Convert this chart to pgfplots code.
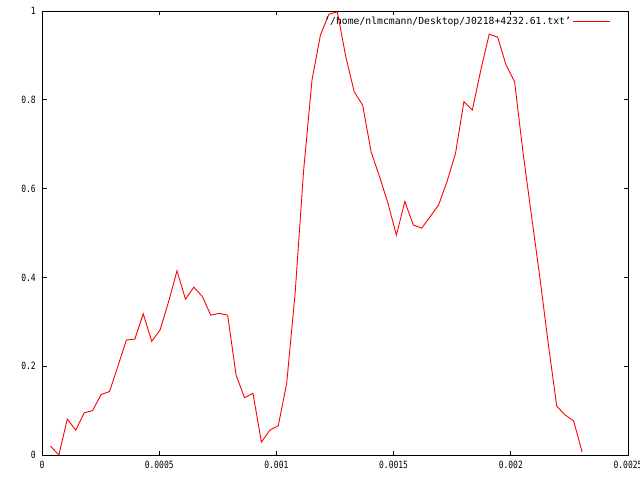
\documentclass[border=0pt]{standalone}
\usepackage{fontspec}
\setmainfont{DejaVu Sans Mono}
\newfontfamily\tickfont[FakeStretch=0.8]{DejaVu Sans Mono}
\usepackage{pgfplots}
\pgfplotsset{compat=1.18}
\begin{document}
\begin{tikzpicture}
\path[use as bounding box] (0,0) rectangle (640pt,480pt);
\begin{axis}[
  at={(42pt,25pt)}, anchor=south west,
  scale only axis, width=586pt, height=444pt,
  xmin=0, xmax=0.0025, ymin=0, ymax=1,
  xtick={0,0.0005,0.001,0.0015,0.002,0.0025},
  ytick={0,0.2,0.4,0.6,0.8,1},
  scaled ticks=false,
  /pgf/number format/assume math mode=true,
  xticklabel style={/pgf/number format/fixed,/pgf/number format/precision=4, font=\fontsize{10}{11}\tickfont, inner sep=0pt, yshift=-6pt},
  yticklabel style={/pgf/number format/fixed,/pgf/number format/precision=1, font=\fontsize{10}{11}\tickfont, inner sep=0pt, xshift=-6pt},
  tick align=inside, major tick length=4.5pt,
  tick style={black, line width=0.8pt},
  axis line style={black, line width=0.8pt},
  legend plot pos=right,
  legend style={draw=none, fill=none, at={(0.971,0.977)}, anchor=east, inner sep=0pt,
    font=\fontsize{9.75}{11}\selectfont, legend cell align=right},
  legend image code/.code={\path (0pt,0pt) -- (8pt,0pt); \draw[#1] (8pt,0pt) -- (37pt,0pt);},
]
\addplot[red, line width=0.9pt] coordinates {
(0.000036,0.020)
(0.000072,0.000)
(0.000108,0.081)
(0.000144,0.056)
(0.000180,0.095)
(0.000216,0.100)
(0.000252,0.136)
(0.000288,0.143)
(0.000324,0.200)
(0.000360,0.259)
(0.000396,0.261)
(0.000432,0.318)
(0.000468,0.256)
(0.000504,0.282)
(0.000540,0.345)
(0.000576,0.415)
(0.000612,0.351)
(0.000648,0.378)
(0.000684,0.357)
(0.000720,0.315)
(0.000756,0.319)
(0.000792,0.315)
(0.000828,0.180)
(0.000864,0.129)
(0.000900,0.139)
(0.000936,0.029)
(0.000972,0.056)
(0.001008,0.066)
(0.001044,0.162)
(0.001080,0.365)
(0.001116,0.640)
(0.001152,0.845)
(0.001188,0.946)
(0.001224,0.993)
(0.001260,0.998)
(0.001296,0.897)
(0.001332,0.818)
(0.001368,0.788)
(0.001404,0.683)
(0.001440,0.627)
(0.001476,0.567)
(0.001512,0.495)
(0.001548,0.571)
(0.001584,0.518)
(0.001620,0.511)
(0.001656,0.537)
(0.001692,0.563)
(0.001728,0.616)
(0.001764,0.679)
(0.001800,0.796)
(0.001836,0.777)
(0.001872,0.867)
(0.001908,0.948)
(0.001944,0.941)
(0.001980,0.878)
(0.002016,0.841)
(0.002052,0.682)
(0.002088,0.540)
(0.002124,0.400)
(0.002160,0.250)
(0.002196,0.110)
(0.002232,0.090)
(0.002268,0.077)
(0.002304,0.007)
};
\addlegendentry{'/home/nlmcmann/Desktop/J0218+4232.61.txt'}
\end{axis}
\end{tikzpicture}
\end{document}
